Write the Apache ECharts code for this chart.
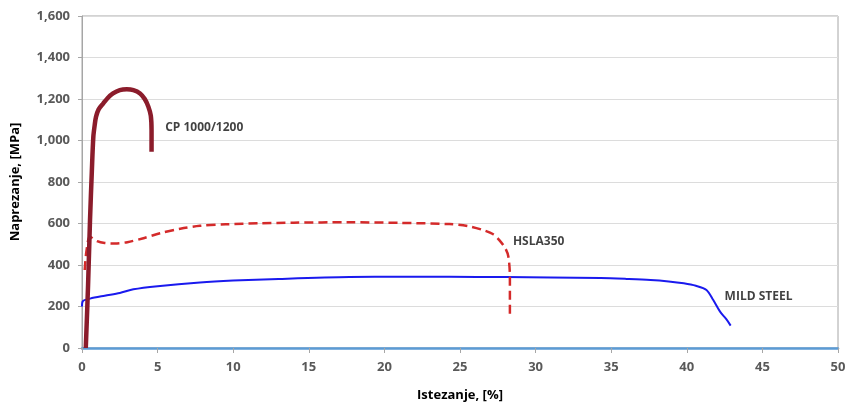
<!DOCTYPE html>
<html>
<head>
<meta charset="utf-8">
<script src="https://cdn.jsdelivr.net/npm/echarts@6/dist/echarts.min.js"></script>
<style>
  html, body { margin: 0; padding: 0; background: #fff; }
  #chart { width: 848px; height: 405px; }
</style>
</head>
<body>
<div id="chart"></div>
<script>
// CP 1000/1200 krivulja
const cpX = [0.25, 0.4, 0.53, 0.65, 0.75, 0.85, 0.93, 1.1, 1.41, 1.7, 2.05, 2.5, 2.96, 3.4, 3.84, 4.15, 4.39, 4.55, 4.6, 4.6];
const cpY = [0, 300, 617, 850, 1018, 1080, 1115, 1150, 1179, 1205, 1227, 1243, 1247, 1243, 1227, 1200, 1163, 1120, 1050, 946];
// HSLA350 krivulja
const hslaX = [0.18, 0.3, 0.53, 1.0, 1.5, 2.18, 3, 4, 5.16, 6.5, 7.8, 9.5, 11.8, 14, 17.7, 21, 24.3, 25.5, 26.5, 27.2, 27.6, 28.0, 28.2, 28.3, 28.3];
const hslaY = [376, 470, 536, 515, 506, 504, 510, 528, 553, 575, 589, 596, 601, 604, 606, 603, 597, 588, 569, 548, 520, 480, 440, 344, 143];
// MILD STEEL krivulja
const mildX = [0, 0.05, 0.53, 1.5, 2.5, 3.4, 5, 7.8, 10, 13, 17.7, 21, 24.3, 28, 31, 34.3, 36, 37.6, 38.8, 39.8, 40.6, 41.3, 41.75, 42.2, 42.6, 42.9];
const mildY = [200, 225, 238, 252, 265, 283, 298, 316, 325, 333, 342, 343, 343, 342, 340, 337, 333, 328, 321, 312, 300, 280, 231, 175, 140, 108];

const xTicks = [0, 5, 10, 15, 20, 25, 30, 35, 40, 45, 50];
const yTicks = [0, 200, 400, 600, 800, 1000, 1200, 1400, 1600];

const labels = [
  { name: 'CP 1000/1200', x: 5.5, y: 1060 },
  { name: 'HSLA350', x: 28.5, y: 511 },
  { name: 'MILD STEEL', x: 42.5, y: 246 }
];

const pairs = (xs, ys) => xs.map((v, i) => [v, ys[i]]);
const font = '"Open Sans", "Liberation Sans", sans-serif';

const chart = echarts.init(document.getElementById('chart'));
chart.setOption({
  animation: false,
  grid: {
    left: 82, right: 10, top: 16, bottom: 57,
    outerBoundsMode: 'none', containLabel: false,
    show: true, borderColor: '#a6a6a6', borderWidth: 1
  },
  xAxis: {
    type: 'value',
    min: xTicks[0], max: xTicks[xTicks.length - 1], interval: 5,
    name: 'Istezanje, [%]', nameLocation: 'middle', nameGap: 41,
    nameTextStyle: { color: '#000', fontWeight: 'bold', fontSize: 13, fontFamily: font },
    axisLine: { lineStyle: { color: '#5b9bd5', width: 2.5 } },
    axisTick: { show: true, length: 5, lineStyle: { color: '#a6a6a6' } },
    axisLabel: { color: '#595959', fontWeight: 'bold', fontSize: 13, fontFamily: font, margin: 13 },
    splitLine: { show: false }
  },
  yAxis: {
    type: 'value',
    min: yTicks[0], max: yTicks[yTicks.length - 1], interval: 200,
    name: 'Naprezanje, [MPa]', nameLocation: 'middle', nameGap: 60,
    nameTextStyle: { color: '#000', fontWeight: 'bold', fontSize: 13, fontFamily: font },
    axisLine: { show: true, lineStyle: { color: '#a6a6a6' } },
    axisTick: { show: true, length: 4, lineStyle: { color: '#a6a6a6' } },
    axisLabel: {
      color: '#595959', fontWeight: 'bold', fontSize: 13, fontFamily: font, margin: 12,
      formatter: v => v.toLocaleString('en-US')
    },
    splitLine: { lineStyle: { color: '#dcdcdc' } }
  },
  series: [
    {
      name: 'MILD STEEL', type: 'line', data: pairs(mildX, mildY),
      showSymbol: false, smooth: 0.3,
      lineStyle: { color: '#1a1aee', width: 2 }
    },
    {
      name: 'HSLA350', type: 'line', data: pairs(hslaX, hslaY),
      showSymbol: false, smooth: 0.3,
      lineStyle: { color: '#d42a2a', width: 2.5, type: [9, 5] }
    },
    {
      name: 'CP 1000/1200', type: 'line', data: pairs(cpX, cpY),
      showSymbol: false, smooth: 0.3,
      lineStyle: { color: '#8b1c2b', width: 4.5 }
    },
    {
      // oznake krivulja
      type: 'scatter', symbolSize: 0,
      data: labels.map(l => ({ value: [l.x, l.y], name: l.name })),
      label: {
        show: true, position: 'right', distance: 0,
        formatter: p => p.name,
        color: '#111', fontSize: 12, fontWeight: 'bold', fontFamily: font
      },
      silent: true
    }
  ]
});
</script>
</body>
</html>
